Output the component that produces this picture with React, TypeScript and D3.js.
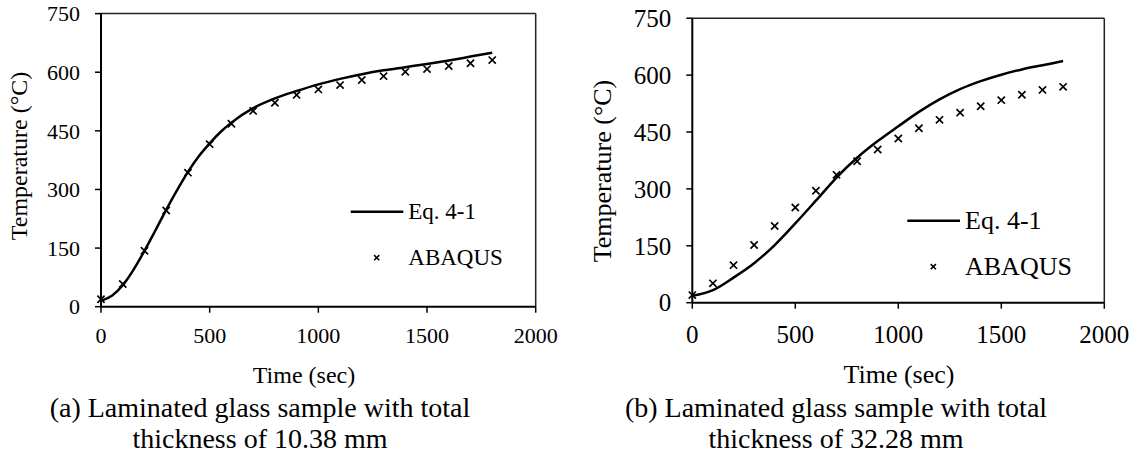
import React from "react";
import * as d3 from "d3";

// ---------- data ----------
const xTicks = [0, 500, 1000, 1500, 2000];
const yTicks = [0, 150, 300, 450, 600, 750];

const abaqusTime = [0, 100, 200, 300, 400, 500, 600, 700, 800, 900, 1000, 1100, 1200, 1300, 1400, 1500, 1600, 1700, 1800];
const abaqusA = [19, 58, 143, 246, 343, 416, 468, 501, 522, 542, 556, 567, 580, 590, 601, 608, 616, 623, 631];
const abaqusB = [20, 51, 99, 152, 202, 251, 295, 337, 373, 404, 433, 460, 482, 501, 518, 534, 548, 561, 569];

const eqTimeA = [0, 50, 100, 150, 200, 250, 300, 350, 400, 450, 500, 550, 600, 700, 800, 900, 1000, 1100, 1200, 1300, 1400, 1500, 1600, 1700, 1800];
const eqA = [15, 28, 55, 95, 143, 195, 248, 298, 345, 385, 418, 447, 471, 508, 533, 552, 569, 583, 595, 605, 613, 621, 630, 640, 650];

const eqTimeB = [0, 100, 200, 300, 400, 500, 600, 700, 800, 900, 1000, 1100, 1200, 1300, 1400, 1500, 1600, 1700, 1800];
const eqB = [18, 33, 66, 104, 152, 209, 269, 330, 382, 426, 465, 503, 536, 563, 584, 601, 615, 626, 637];

const xTitle = "Time (sec)";
const yTitle = "Temperature (°C)";
const legendLine = "Eq. 4-1";
const legendMarker = "ABAQUS";
const captionA = ["(a) Laminated glass sample with total", "thickness of 10.38 mm"];
const captionB = ["(b) Laminated glass sample with total", "thickness of 32.28 mm"];

const FONT = "'Liberation Serif', 'Times New Roman', serif";

type PanelProps = {
  x0: number; x1: number; y0: number; y1: number;
  tickFont: number; titleFont: number; legendFont: number; captionFont: number;
  eqT: number[]; eqV: number[]; abV: number[];
  yTitlePos: [number, number]; xTitlePos: [number, number];
  legend: { lx0: number; lx1: number; ly: number; mx: number; my: number; tx: number };
  caption: string[]; capX: number; capY: number[];
};

function Cross({ cx, cy, s, w }: { cx: number; cy: number; s: number; w: number }) {
  return (
    <path
      d={`M${cx - s},${cy - s}L${cx + s},${cy + s}M${cx - s},${cy + s}L${cx + s},${cy - s}`}
      stroke="#000"
      strokeWidth={w}
      fill="none"
    />
  );
}

function Panel(p: PanelProps) {
  const x = d3.scaleLinear().domain([0, 2000]).range([p.x0, p.x1]);
  const y = d3.scaleLinear().domain([0, 750]).range([p.y0, p.y1]);
  const line = d3
    .line<number>()
    .x((_, i) => x(p.eqT[i]))
    .y((v) => y(v))
    .curve(d3.curveMonotoneX);
  const tl = 6;
  return (
    <g fontFamily={FONT} fill="#000">
      {/* frame */}
      <line x1={p.x0} x2={p.x1} y1={p.y1} y2={p.y1} stroke="#222" strokeWidth={1.5} />
      <line x1={p.x1} x2={p.x1} y1={p.y1} y2={p.y0} stroke="#222" strokeWidth={1.5} />
      {/* axes */}
      <line x1={p.x0} x2={p.x1} y1={p.y0} y2={p.y0} stroke="#000" strokeWidth={2} />
      <line x1={p.x0} x2={p.x0} y1={p.y0} y2={p.y1} stroke="#000" strokeWidth={2} />
      {yTicks.map((t) => (
        <g key={"y" + t}>
          <line x1={p.x0 - tl} x2={p.x0} y1={y(t)} y2={y(t)} stroke="#000" strokeWidth={1.5} />
          <text x={p.x0 - 21} y={y(t)} dy="0.35em" textAnchor="end" fontSize={p.tickFont}>
            {t}
          </text>
        </g>
      ))}
      {xTicks.map((t) => (
        <g key={"x" + t}>
          <line x1={x(t)} x2={x(t)} y1={p.y0} y2={p.y0 + tl} stroke="#000" strokeWidth={1.5} />
          <text x={x(t)} y={343} textAnchor="middle" fontSize={p.tickFont}>
            {t}
          </text>
        </g>
      ))}
      {/* series */}
      <path d={line(p.eqV) || ""} stroke="#000" strokeWidth={2.5} fill="none" />
      {p.abV.map((v, i) => (
        <Cross key={i} cx={x(abaqusTime[i])} cy={y(v)} s={3.6} w={1.7} />
      ))}
      {/* titles */}
      <text
        transform={`translate(${p.yTitlePos[0]},${p.yTitlePos[1]}) rotate(-90)`}
        textAnchor="middle"
        dy="0.35em"
        fontSize={p.titleFont}
      >
        {yTitle}
      </text>
      <text x={p.xTitlePos[0]} y={p.xTitlePos[1]} textAnchor="middle" fontSize={p.titleFont}>
        {xTitle}
      </text>
      {/* legend */}
      <line x1={p.legend.lx0} x2={p.legend.lx1} y1={p.legend.ly} y2={p.legend.ly} stroke="#000" strokeWidth={2.5} />
      <text x={p.legend.tx} y={p.legend.ly} dy="0.33em" fontSize={p.legendFont}>
        {legendLine}
      </text>
      <Cross cx={p.legend.mx} cy={p.legend.my} s={2.6} w={1.5} />
      <text x={p.legend.tx} y={p.legend.my} dy="0.33em" fontSize={p.legendFont}>
        {legendMarker}
      </text>
      {/* caption */}
      {p.caption.map((c, i) => (
        <text key={i} x={p.capX} y={p.capY[i]} textAnchor="middle" fontSize={p.captionFont}>
          {c}
        </text>
      ))}
    </g>
  );
}

export default function App() {
  return (
    <svg width={1142} height={459} style={{ position: "absolute", left: 0, top: 0, background: "#fff" }}>
      <rect width={1142} height={459} fill="#fff" />
      <Panel
        x0={101} x1={535.7} y0={306.7} y1={13.6}
        tickFont={22} titleFont={24} legendFont={23} captionFont={28}
        eqT={eqTimeA} eqV={eqA} abV={abaqusA}
        yTitlePos={[19, 156]} xTitlePos={[304, 383]}
        legend={{ lx0: 350.7, lx1: 403.3, ly: 211.7, mx: 376.7, my: 257.7, tx: 408.3 }}
        caption={captionA} capX={260} capY={[417, 448]}
      />
      <Panel
        x0={692.3} x1={1104.3} y0={302.7} y1={18.2}
        tickFont={25} titleFont={26} legendFont={26} captionFont={28}
        eqT={eqTimeB} eqV={eqB} abV={abaqusB}
        yTitlePos={[602, 171]} xTitlePos={[899, 383]}
        legend={{ lx0: 907.3, lx1: 960, ly: 220.7, mx: 933.3, my: 266.7, tx: 965 }}
        caption={captionB} capX={836} capY={[417, 448]}
      />
    </svg>
  );
}
